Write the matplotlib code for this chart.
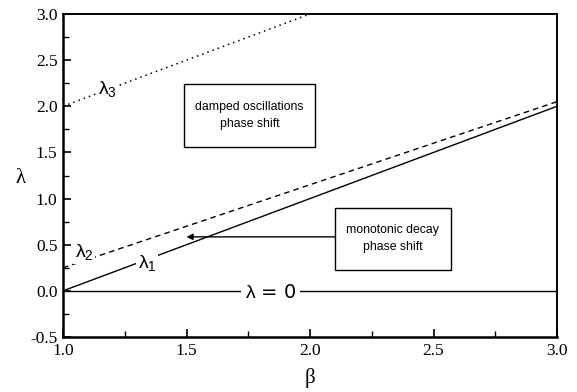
import matplotlib
matplotlib.use("Agg")
import matplotlib.pyplot as plt
from matplotlib.patches import Rectangle
from matplotlib.ticker import MultipleLocator

plt.rcParams['mathtext.fontset'] = 'custom'
plt.rcParams['mathtext.rm'] = 'Liberation Sans'
plt.rcParams['mathtext.it'] = 'Liberation Sans'

# data
beta_l1 = [1.0, 3.0]
lam1 = [0.0, 2.0]
beta_l2 = [1.0, 3.0]
lam2 = [0.25, 2.05]
beta_l3 = [1.0, 2.0]
lam3 = [2.0, 3.0]
beta_l0 = [1.0, 3.0]
lam0 = [0.0, 0.0]

xticks = [1.0, 1.5, 2.0, 2.5, 3.0]
yticks = [-0.5, 0.0, 0.5, 1.0, 1.5, 2.0, 2.5, 3.0]

fig = plt.figure(figsize=(5.77, 3.92), dpi=100)
ax = fig.add_axes([63/577, 1-337/392, (557-63)/577, (337-14)/392])

ax.plot(beta_l1, lam1, color='black', lw=1.0, ls='-')
ax.plot(beta_l2, lam2, color='black', lw=1.0, ls=(0, (4, 3)))
ax.plot(beta_l3, lam3, color='black', lw=1.1, ls=(0, (1, 2.6)))
ax.plot(beta_l0, lam0, color='black', lw=1.0, ls='-')

ax.set_xlim(1.0, 3.0)
ax.set_ylim(-0.5, 3.0)
ax.set_xticks(xticks)
ax.set_yticks(yticks)
ax.set_xticklabels([f"{v:.1f}" for v in xticks])
ax.set_yticklabels([f"{v:.1f}" for v in yticks])
ax.xaxis.set_minor_locator(MultipleLocator(0.25))
ax.yaxis.set_minor_locator(MultipleLocator(0.25))
ax.tick_params(which='both', direction='in', top=False, right=False)
ax.tick_params(which='major', length=6, width=1.2, labelsize=12.5, pad=4)
ax.tick_params(which='minor', length=4, width=1.0)
for lab in ax.get_xticklabels() + ax.get_yticklabels():
    lab.set_family('Liberation Serif')
for s in ['left', 'bottom']:
    ax.spines[s].set_linewidth(1.8)
for s in ['top', 'right']:
    ax.spines[s].set_linewidth(1.4)

ax.set_xlabel('β', fontsize=15, family='Liberation Serif')
ax.xaxis.set_label_coords(0.5, -0.095)
ax.set_ylabel('λ', fontsize=15, family='Liberation Serif', rotation=0)
ax.yaxis.set_label_coords(-0.085, 0.46)

wb = dict(facecolor='white', edgecolor='none', pad=1.5)
ax.text(1.18, 2.19, r'$\lambda_3$', fontsize=14, ha='center', va='center', bbox=wb)
ax.text(1.085, 0.42, r'$\lambda_2$', fontsize=14, ha='center', va='center', bbox=wb)
ax.text(1.34, 0.30, r'$\lambda_1$', fontsize=14, ha='center', va='center', bbox=wb)
ax.text(1.84, -0.02, r'$\lambda$ = 0', fontsize=14, ha='center', va='center',
        bbox=dict(facecolor='white', edgecolor='none', pad=3))

# boxes
ax.add_patch(Rectangle((1.49, 1.56), 0.53, 0.68, facecolor='white', edgecolor='black', lw=1.0, zorder=3))
ax.text(1.755, 1.9, 'damped oscillations\nphase shift', fontsize=8.8, family='Liberation Sans',
        ha='center', va='center', linespacing=1.5, zorder=4)
ax.add_patch(Rectangle((2.10, 0.23), 0.47, 0.67, facecolor='white', edgecolor='black', lw=1.0, zorder=3))
ax.text(2.335, 0.565, 'monotonic decay\nphase shift', fontsize=8.8, family='Liberation Sans',
        ha='center', va='center', linespacing=1.5, zorder=4)

ax.annotate('', xy=(1.50, 0.585), xytext=(2.10, 0.585),
            arrowprops=dict(arrowstyle='-|>', color='black', lw=1.0, mutation_scale=9,
                            shrinkA=0, shrinkB=0))

fig.savefig('out.png', dpi=100)
